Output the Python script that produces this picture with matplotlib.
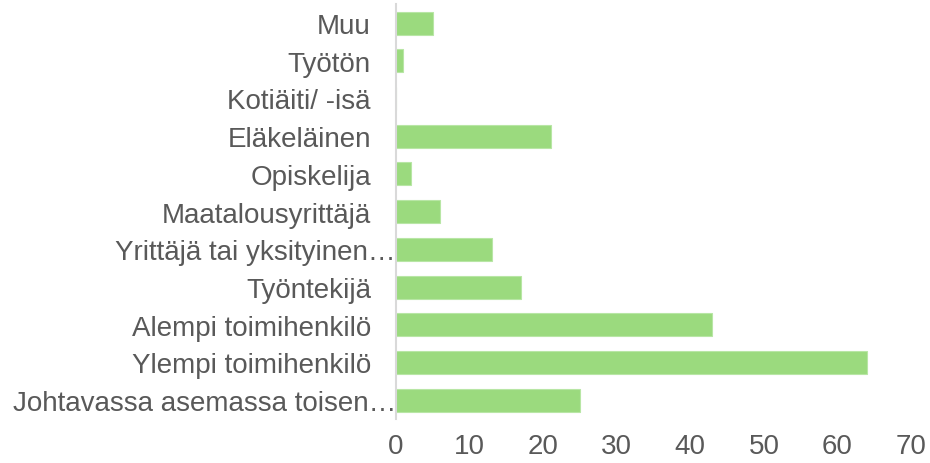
import matplotlib
matplotlib.use("Agg")
import matplotlib.pyplot as plt

categories = ["Muu", "Työtön", "Kotiäiti/ -isä", "Eläkeläinen", "Opiskelija",
              "Maatalousyrittäjä", "Yrittäjä tai yksityinen…", "Työntekijä",
              "Alempi toimihenkilö", "Ylempi toimihenkilö",
              "Johtavassa asemassa toisen…"]
values = [5, 1, 0, 21, 2, 6, 13, 17, 43, 64, 25]
xticks = [0, 10, 20, 30, 40, 50, 60, 70]

plt.rcParams['font.family'] = ['Liberation Sans', 'DejaVu Sans']
fig = plt.figure(figsize=(9.3, 4.64), dpi=100)
ax = fig.add_axes([0.4258, 0.0948, 0.5538, 0.894])

pos = list(range(len(categories)))
ax.barh(pos, values, height=0.61, color="#9BDA7E", edgecolor="#B8E6A5", linewidth=0.8)
ax.set_ylim(len(categories) - 0.5, -0.5)
ax.set_xlim(0, 70)
ax.set_xticks(xticks)
ax.set_yticks(pos)
ax.set_yticklabels(categories, fontsize=20, color="#595959")
ax.tick_params(axis='x', length=0, pad=10, labelsize=20, labelcolor="#595959")
ax.tick_params(axis='y', length=0, pad=18)
for t, lab in zip(ax.yaxis.get_major_ticks(), categories):
    if lab.endswith("…"):
        t.set_pad(0)
for s in ["top", "right", "bottom"]:
    ax.spines[s].set_visible(False)
ax.spines["left"].set_color("#D9D9D9")
ax.spines["left"].set_linewidth(1.5)
fig.savefig("out.png", dpi=100)
